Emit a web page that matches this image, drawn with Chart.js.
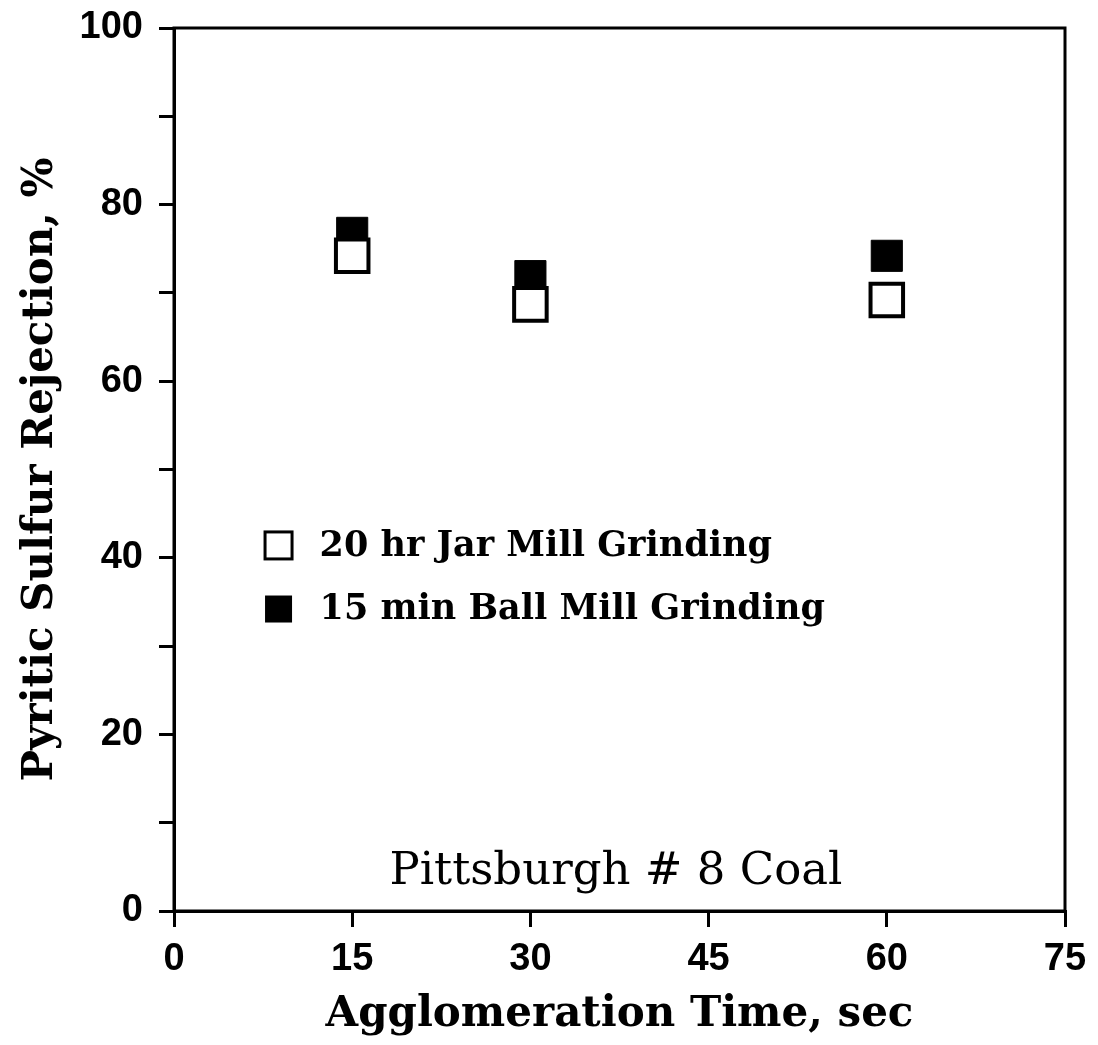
<!DOCTYPE html>
<html>
<head>
<meta charset="utf-8">
<script src="https://cdn.jsdelivr.net/npm/chart.js@4.4.1/dist/chart.umd.min.js"></script>
<style>
  html, body { margin: 0; padding: 0; background: #fff; }
  #wrap { width: 1098px; height: 1045px; position: relative; }
</style>
</head>
<body>
<div id="wrap"><canvas id="chart"></canvas></div>
<script>
// --- Données ---
const times = [15, 30, 60];               // Agglomeration Time, sec
const jarMill20hr = [74.2, 68.7, 69.2];   // carrés vides
const ballMill15min = [76.8, 71.9, 74.2]; // carrés pleins
const xTicks = [0, 15, 30, 45, 60, 75];
const yTicks = [0, 20, 40, 60, 80, 100];
const seriesLabels = ['20 hr Jar Mill Grinding', '15 min Ball Mill Grinding'];
const noteText = 'Pittsburgh # 8 Coal';

const serifFont = "'DejaVu Serif', 'Liberation Serif', serif";
const tickFont = "'Liberation Sans', Arial, sans-serif";

// cadre complet + légende + annotation dans la zone du graphique
const framePlugin = {
    id: 'frame',
    afterDraw(chart) {
        const { ctx, chartArea: a, scales } = chart;
        ctx.save();
        ctx.strokeStyle = '#000';
        ctx.lineWidth = 3;
        ctx.strokeRect(a.left, a.top, a.right - a.left, a.bottom - a.top);

        // légende à l'intérieur
        const lx = scales.x.getPixelForValue(8.8);
        const rows = [scales.y.getPixelForValue(41.4), scales.y.getPixelForValue(34.2)];
        const box = 27;
        ctx.font = `bold 35px ${serifFont}`;
        ctx.textBaseline = 'middle';
        ctx.textAlign = 'left';
        ctx.fillStyle = '#000';
        rows.forEach((ry, i) => {
            if (i === 0) {
                ctx.lineWidth = 3;
                ctx.strokeRect(lx - box / 2, ry - box / 2, box, box);
            } else {
                ctx.fillRect(lx - box / 2, ry - box / 2, box, box);
            }
            ctx.fillText(seriesLabels[i], lx + 41, ry + 1);
        });

        // nom du charbon
        ctx.font = `45px ${serifFont}`;
        ctx.textAlign = 'center';
        ctx.fillText(noteText, scales.x.getPixelForValue(37.2), scales.y.getPixelForValue(4.4));
        ctx.restore();
    }
};

new Chart(document.getElementById('chart'), {
    type: 'scatter',
    data: {
        datasets: [
            {
                label: seriesLabels[0],
                data: times.map((t, i) => ({ x: t, y: jarMill20hr[i] })),
                pointStyle: 'rect',
                pointRadius: 23,
                pointHoverRadius: 23,
                backgroundColor: '#fff',
                borderColor: '#000',
                borderWidth: 4
            },
            {
                label: seriesLabels[1],
                data: times.map((t, i) => ({ x: t, y: ballMill15min[i] })),
                pointStyle: 'rect',
                pointRadius: 22,
                pointHoverRadius: 22,
                backgroundColor: '#000',
                borderColor: '#000',
                borderWidth: 1
            }
        ]
    },
    options: {
        responsive: true,
        maintainAspectRatio: false,
        animation: false,
        layout: { padding: { top: 28, right: 33, bottom: 0, left: 0 } },
        plugins: {
            legend: { display: false },
            tooltip: { enabled: false }
        },
        scales: {
            x: {
                type: 'linear',
                min: 0, max: 75,
                afterBuildTicks: s => { s.ticks = xTicks.map(v => ({ value: v })); },
                afterFit: s => { s.height = 134; s.paddingLeft = 0; s.paddingRight = 0; },
                border: { display: true, color: '#000', width: 3 },
                grid: { drawOnChartArea: false, drawTicks: true, tickLength: 16, color: '#000', lineWidth: 3 },
                ticks: { color: '#000', padding: 10, font: { family: tickFont, size: 38, weight: 'bold' } },
                title: {
                    display: true,
                    text: 'Agglomeration Time, sec',
                    color: '#000',
                    font: { family: serifFont, size: 42, weight: 'bold' },
                    padding: { top: 0, bottom: 5 }
                }
            },
            y: {
                type: 'linear',
                min: 0, max: 100,
                afterBuildTicks: s => {
                    const t = [];
                    for (let v = 0; v <= 100; v += 10) t.push({ value: v });
                    s.ticks = t;
                },
                afterFit: s => { s.width = 174; s.paddingTop = 0; s.paddingBottom = 0; },
                border: { display: true, color: '#000', width: 3 },
                grid: { drawOnChartArea: false, drawTicks: true, tickLength: 15, color: '#000', lineWidth: 3 },
                ticks: {
                    color: '#000',
                    padding: 16,
                    font: { family: tickFont, size: 38, weight: 'bold' },
                    callback: v => yTicks.includes(v) ? v : ''
                },
                title: {
                    display: true,
                    text: 'Pyritic Sulfur Rejection, %',
                    color: '#000',
                    font: { family: serifFont, size: 42, weight: 'bold' },
                    padding: { top: 16, bottom: 0 }
                }
            }
        }
    },
    plugins: [framePlugin]
});
</script>
</body>
</html>
